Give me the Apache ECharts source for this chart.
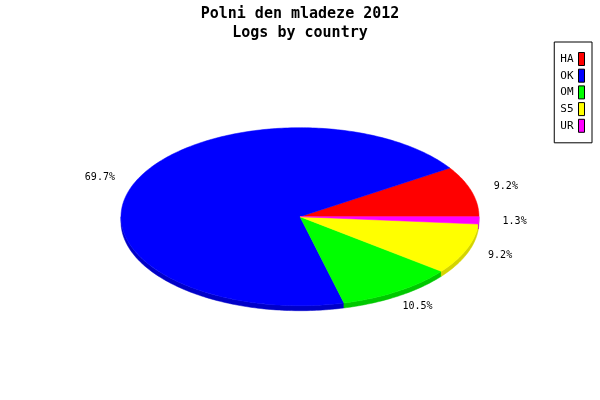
<!DOCTYPE html>
<html>
<head>
<meta charset="UTF-8">
<title>Polni den mladeze 2012</title>
<script src="https://cdn.jsdelivr.net/npm/echarts@6/dist/echarts.min.js"></script>
<style>
html,body{margin:0;padding:0;background:#fff;}
#chart{width:600px;height:400px;}
</style>
</head>
<body>
<div id="chart"></div>
<script>
// data
var categories = ['HA', 'OK', 'OM', 'S5', 'UR'];
var logs = [7, 53, 8, 7, 1];
var topColors = ['#ff0000', '#0000ff', '#00ff00', '#ffff00', '#ff00ff'];
var sideColors = ['#c80000', '#0000c8', '#00c800', '#d4d400', '#c800c8'];

// pie layout (ellipse)
var CX = 300, CY = 216.7, RX = 179, RY = 89, DEPTH = 5, LABEL_K = 1.2;
var FONT = 'DejaVu Sans Mono';

var total = logs.reduce(function (a, b) { return a + b; }, 0);

function pt(a, dy) {
    return [CX + RX * Math.cos(a), CY - RY * Math.sin(a) + (dy || 0)];
}

function arcPoints(a1, a2, dy) {
    var pts = [];
    var n = Math.max(2, Math.ceil((a2 - a1) / (Math.PI / 180)));
    for (var k = 0; k <= n; k++) {
        pts.push(pt(a1 + (a2 - a1) * k / n, dy));
    }
    return pts;
}

function renderSlice(params, api) {
    var i = params.seriesIndex;
    var v = api.value(0);
    var before = 0;
    for (var j = 0; j < i; j++) before += logs[j];
    var a1 = 2 * Math.PI * before / total;
    var a2 = a1 + 2 * Math.PI * v / total;
    var children = [];

    // side wall, only the front (lower) half shows
    var b1 = Math.max(a1, Math.PI), b2 = Math.min(a2, 2 * Math.PI);
    if (b1 < b2) {
        var edge = arcPoints(b1, b2, 0);
        var low = arcPoints(b1, b2, DEPTH).reverse();
        children.push({
            type: 'polygon',
            shape: { points: edge.concat(low) },
            style: { fill: sideColors[i], stroke: sideColors[i], lineWidth: 0.5 }
        });
    }

    // top face
    var top = [[CX, CY]].concat(arcPoints(a1, a2, 0));
    children.push({
        type: 'polygon',
        shape: { points: top },
        style: { fill: topColors[i], stroke: topColors[i], lineWidth: 0.5 }
    });

    // percent label
    var mid = (a1 + a2) / 2;
    children.push({
        type: 'text',
        x: CX + LABEL_K * RX * Math.cos(mid),
        y: CY - LABEL_K * RY * Math.sin(mid),
        style: {
            text: (v / total * 100).toFixed(1) + '%',
            align: 'center',
            verticalAlign: 'middle',
            fill: '#000',
            font: '10px "' + FONT + '"'
        }
    });
    return { type: 'group', children: children };
}

var chart = echarts.init(document.getElementById('chart'));

var series = categories.map(function (name, i) {
    return {
        name: name,
        type: 'custom',
        coordinateSystem: 'none',
        renderItem: renderSlice,
        itemStyle: { color: topColors[i] },
        data: [logs[i]],
        z: 2
    };
});

chart.setOption({
    animation: false,
    backgroundColor: '#fff',
    title: {
        text: 'Polni den mladeze 2012\nLogs by country',
        left: 'center',
        top: 4,
        padding: 0,
        textStyle: {
            fontFamily: FONT,
            fontSize: 15,
            fontWeight: 'bold',
            lineHeight: 19.5,
            color: '#000'
        }
    },
    legend: {
        orient: 'vertical',
        right: 8,
        top: 42,
        align: 'right',
        icon: 'rect',
        itemWidth: 6,
        itemHeight: 13,
        itemGap: 2.7,
        padding: [10, 7, 10, 6],
        borderColor: '#000',
        borderWidth: 1,
        selectedMode: false,
        itemStyle: { borderColor: '#000', borderWidth: 1 },
        textStyle: { fontFamily: FONT, fontSize: 11, color: '#000' },
        data: categories
    },
    series: series
});
</script>
</body>
</html>
